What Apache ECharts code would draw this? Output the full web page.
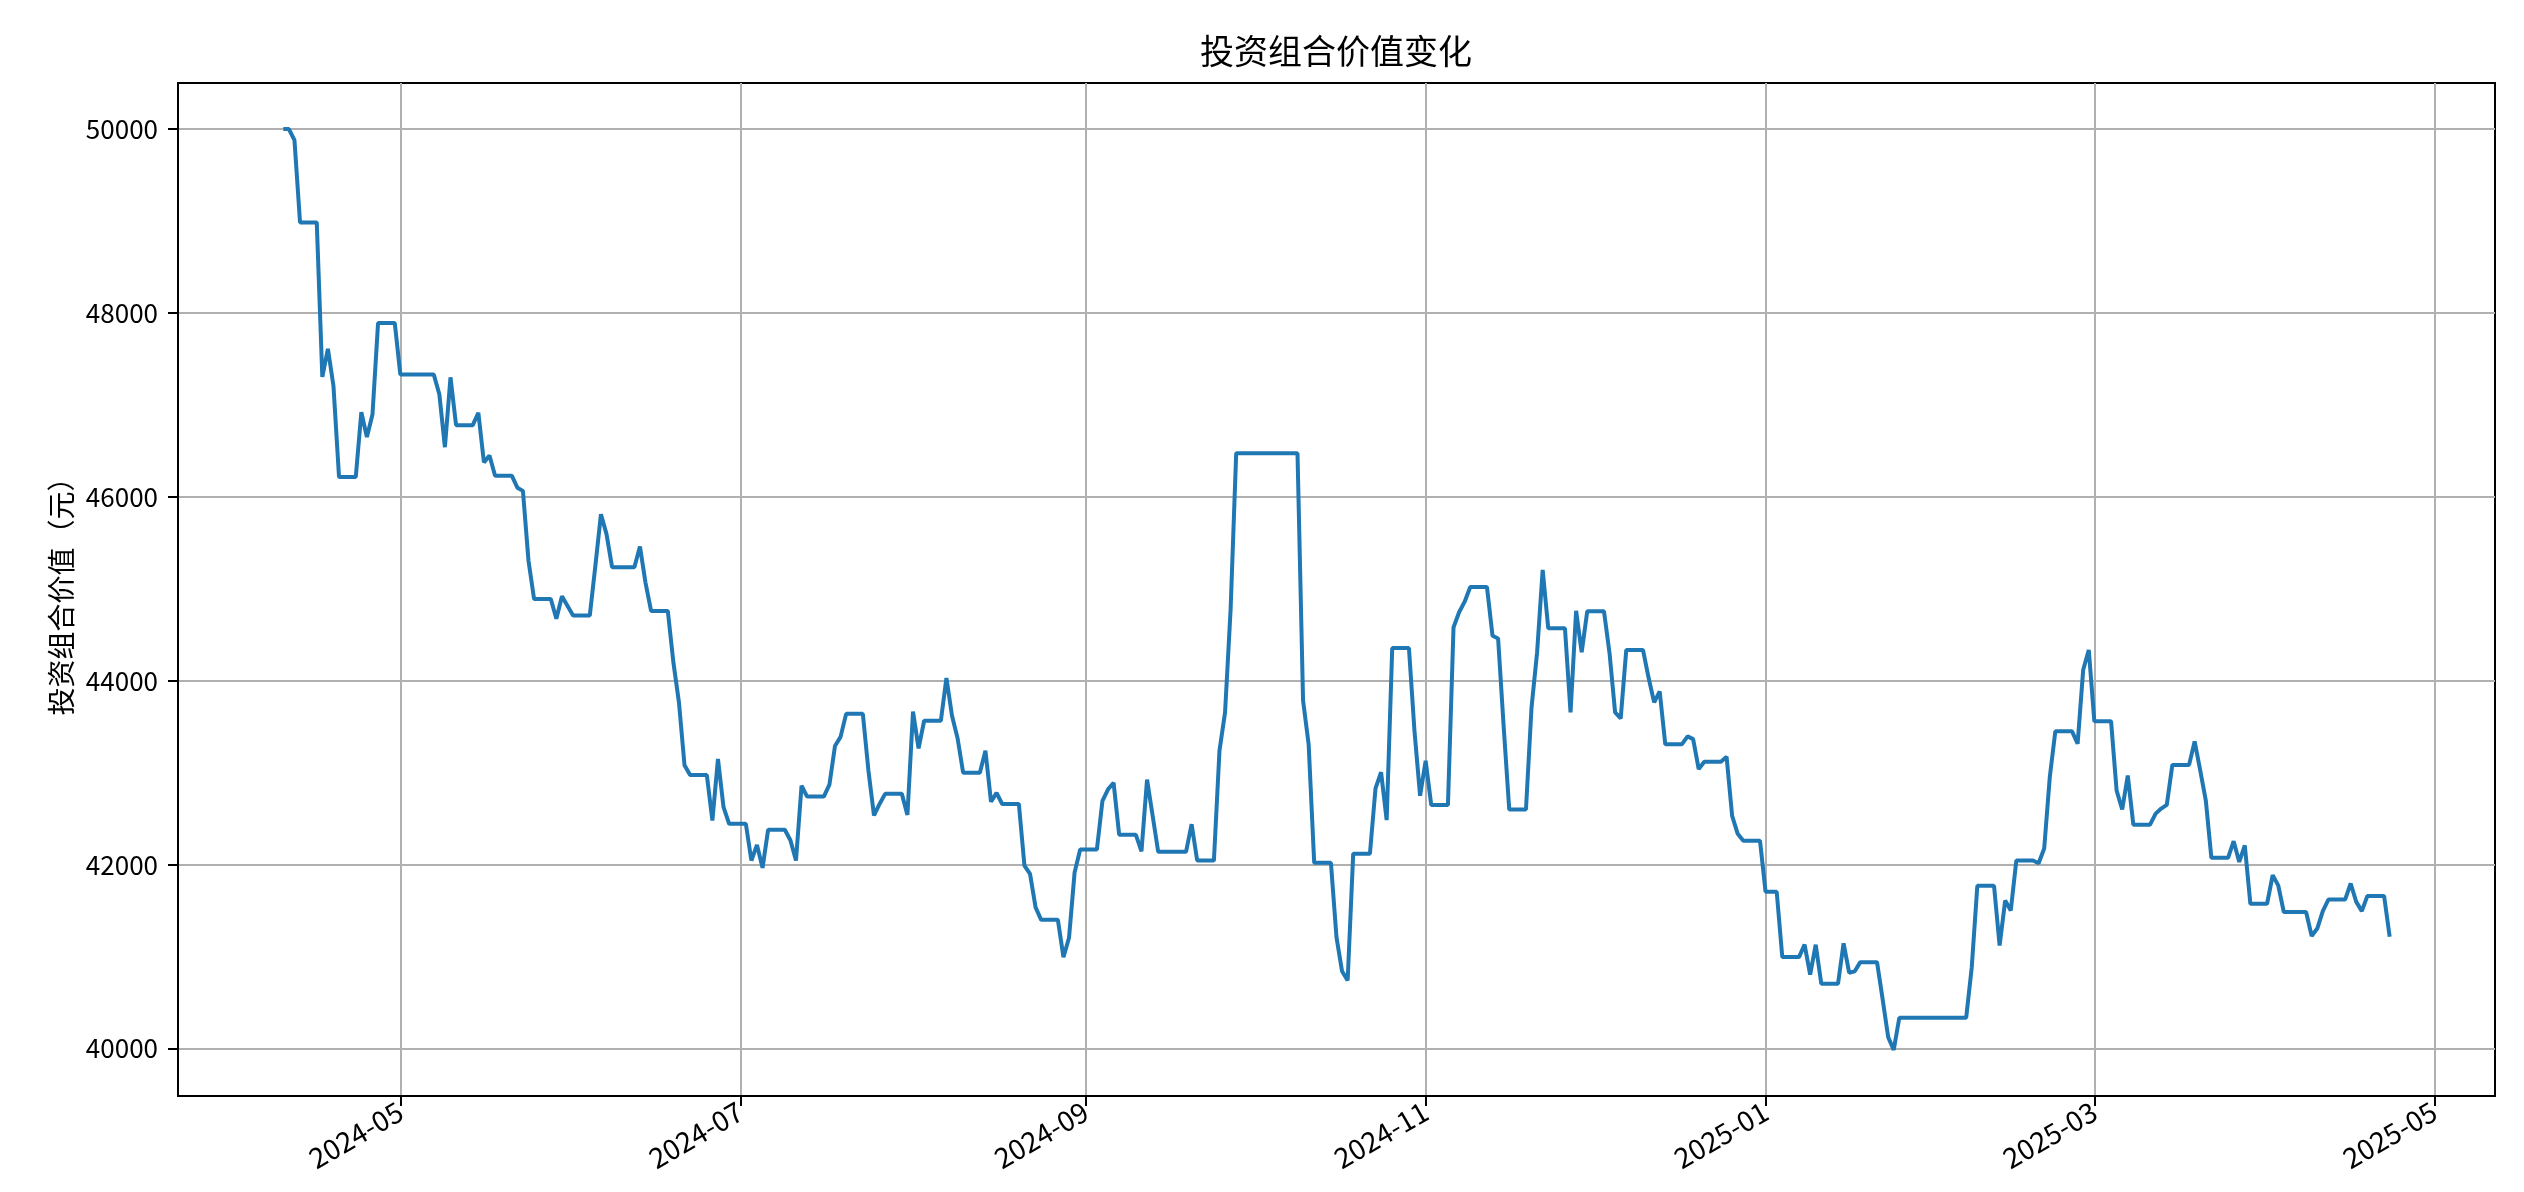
<!DOCTYPE html>
<html>
<head>
<meta charset="utf-8">
<title>投资组合价值变化</title>
<script src="https://cdn.jsdelivr.net/npm/echarts@6/dist/echarts.min.js"></script>
<style>
  html, body { margin: 0; padding: 0; background: #fff; }
  #main { width: 2524px; height: 1192px; }
</style>
</head>
<body>
<div id="main"></div>
<script>
// 日期（只列出折线的拐点，平段用两端表示）
const dates = [
  "2024-04-10", "2024-04-11", "2024-04-12", "2024-04-13", "2024-04-16", "2024-04-17", "2024-04-18", "2024-04-19",
  "2024-04-20", "2024-04-23", "2024-04-24", "2024-04-25", "2024-04-26", "2024-04-27", "2024-04-30", "2024-05-01",
  "2024-05-07", "2024-05-08", "2024-05-09", "2024-05-10", "2024-05-11", "2024-05-14", "2024-05-15", "2024-05-16",
  "2024-05-17", "2024-05-18", "2024-05-21", "2024-05-22", "2024-05-23", "2024-05-24", "2024-05-25", "2024-05-28",
  "2024-05-29", "2024-05-30", "2024-06-01", "2024-06-04", "2024-06-05", "2024-06-06", "2024-06-07", "2024-06-08",
  "2024-06-12", "2024-06-13", "2024-06-14", "2024-06-15", "2024-06-18", "2024-06-19", "2024-06-20", "2024-06-21",
  "2024-06-22", "2024-06-25", "2024-06-26", "2024-06-27", "2024-06-28", "2024-06-29", "2024-07-02", "2024-07-03",
  "2024-07-04", "2024-07-05", "2024-07-06", "2024-07-09", "2024-07-10", "2024-07-11", "2024-07-12", "2024-07-13",
  "2024-07-16", "2024-07-17", "2024-07-18", "2024-07-19", "2024-07-20", "2024-07-23", "2024-07-24", "2024-07-25",
  "2024-07-26", "2024-07-27", "2024-07-30", "2024-07-31", "2024-08-01", "2024-08-02", "2024-08-03", "2024-08-06",
  "2024-08-07", "2024-08-08", "2024-08-09", "2024-08-10", "2024-08-13", "2024-08-14", "2024-08-15", "2024-08-16",
  "2024-08-17", "2024-08-20", "2024-08-21", "2024-08-22", "2024-08-23", "2024-08-24", "2024-08-27", "2024-08-28",
  "2024-08-29", "2024-08-30", "2024-08-31", "2024-09-03", "2024-09-04", "2024-09-05", "2024-09-06", "2024-09-07",
  "2024-09-10", "2024-09-11", "2024-09-12", "2024-09-13", "2024-09-14", "2024-09-19", "2024-09-20", "2024-09-21",
  "2024-09-24", "2024-09-25", "2024-09-26", "2024-09-27", "2024-09-28", "2024-10-09", "2024-10-10", "2024-10-11",
  "2024-10-12", "2024-10-15", "2024-10-16", "2024-10-17", "2024-10-18", "2024-10-19", "2024-10-22", "2024-10-23",
  "2024-10-24", "2024-10-25", "2024-10-26", "2024-10-29", "2024-10-30", "2024-10-31", "2024-11-01", "2024-11-02",
  "2024-11-05", "2024-11-06", "2024-11-07", "2024-11-08", "2024-11-09", "2024-11-12", "2024-11-13", "2024-11-14",
  "2024-11-15", "2024-11-16", "2024-11-19", "2024-11-20", "2024-11-21", "2024-11-22", "2024-11-23", "2024-11-26",
  "2024-11-27", "2024-11-28", "2024-11-29", "2024-11-30", "2024-12-03", "2024-12-04", "2024-12-05", "2024-12-06",
  "2024-12-07", "2024-12-10", "2024-12-11", "2024-12-12", "2024-12-13", "2024-12-14", "2024-12-17", "2024-12-18",
  "2024-12-19", "2024-12-20", "2024-12-21", "2024-12-24", "2024-12-25", "2024-12-26", "2024-12-27", "2024-12-28",
  "2024-12-31", "2025-01-01", "2025-01-03", "2025-01-04", "2025-01-07", "2025-01-08", "2025-01-09", "2025-01-10",
  "2025-01-11", "2025-01-14", "2025-01-15", "2025-01-16", "2025-01-17", "2025-01-18", "2025-01-21", "2025-01-22",
  "2025-01-23", "2025-01-24", "2025-01-25", "2025-02-06", "2025-02-07", "2025-02-08", "2025-02-11", "2025-02-12",
  "2025-02-13", "2025-02-14", "2025-02-15", "2025-02-18", "2025-02-19", "2025-02-20", "2025-02-21", "2025-02-22",
  "2025-02-25", "2025-02-26", "2025-02-27", "2025-02-28", "2025-03-01", "2025-03-04", "2025-03-05", "2025-03-06",
  "2025-03-07", "2025-03-08", "2025-03-11", "2025-03-12", "2025-03-13", "2025-03-14", "2025-03-15", "2025-03-18",
  "2025-03-19", "2025-03-20", "2025-03-21", "2025-03-22", "2025-03-25", "2025-03-26", "2025-03-27", "2025-03-28",
  "2025-03-29", "2025-04-01", "2025-04-02", "2025-04-03", "2025-04-04", "2025-04-08", "2025-04-09", "2025-04-10",
  "2025-04-11", "2025-04-12", "2025-04-15", "2025-04-16", "2025-04-17", "2025-04-18", "2025-04-19", "2025-04-22",
  "2025-04-23"
];

// 投资组合价值（元）
const values = [
  50000, 50000, 49880, 48985, 48985, 47305, 47610, 47205,
  46215, 46215, 46920, 46650, 46895, 47890, 47890, 47330,
  47330, 47115, 46540, 47300, 46780, 46780, 46915, 46375,
  46450, 46230, 46230, 46100, 46065, 45305, 44890, 44890,
  44675, 44920, 44710, 44710, 45250, 45810, 45595, 45235,
  45235, 45460, 45065, 44760, 44760, 44200, 43765, 43080,
  42975, 42975, 42480, 43150, 42625, 42445, 42445, 42045,
  42215, 41965, 42380, 42380, 42265, 42045, 42860, 42740,
  42740, 42870, 43290, 43390, 43640, 43640, 43025, 42535,
  42660, 42770, 42770, 42540, 43665, 43265, 43565, 43565,
  44030, 43620, 43375, 43000, 43000, 43240, 42685, 42780,
  42660, 42660, 41990, 41900, 41535, 41400, 41400, 40995,
  41205, 41915, 42165, 42165, 42695, 42820, 42890, 42325,
  42325, 42145, 42925, 42535, 42140, 42140, 42440, 42045,
  42045, 43240, 43655, 44780, 46475, 46475, 43785, 43310,
  42020, 42020, 41210, 40840, 40740, 42120, 42120, 42830,
  43005, 42485, 44355, 44355, 43450, 42750, 43130, 42650,
  42650, 44580, 44745, 44860, 45020, 45020, 44490, 44460,
  43500, 42600, 42600, 43710, 44310, 45205, 44570, 44570,
  43655, 44760, 44310, 44755, 44755, 44300, 43655, 43590,
  44335, 44335, 44035, 43765, 43885, 43310, 43310, 43395,
  43365, 43040, 43120, 43120, 43175, 42530, 42335, 42260,
  42260, 41705, 41705, 40995, 40995, 41130, 40805, 41130,
  40705, 40705, 41145, 40825, 40840, 40940, 40940, 40540,
  40125, 39985, 40335, 40335, 40885, 41770, 41770, 41120,
  41610, 41500, 42045, 42045, 42015, 42175, 42950, 43450,
  43450, 43315, 44120, 44335, 43560, 43560, 42805, 42600,
  42970, 42435, 42435, 42555, 42610, 42650, 43085, 43085,
  43340, 43025, 42700, 42075, 42075, 42255, 42030, 42210,
  41575, 41575, 41885, 41775, 41485, 41485, 41225, 41305,
  41495, 41620, 41620, 41795, 41595, 41495, 41660, 41660,
  41215
];

// 刻度
const xTicks = ["2024-05-01", "2024-07-01", "2024-09-01", "2024-11-01", "2025-01-01", "2025-03-01", "2025-05-01"];
const yTicks = [40000, 42000, 44000, 46000, 48000, 50000];

let chartDom = document.getElementById("main");
let myChart = echarts.init(chartDom, null, { renderer: "canvas" });

let seriesData = dates.map((d, i) => [Date.parse(d), values[i]]);
let xTickTimes = xTicks.map((d) => Date.parse(d));

// matplotlib 默认留 5% 边距
let t0 = seriesData[0][0];
let t1 = seriesData[seriesData.length - 1][0];
let tPad = (t1 - t0) * 0.05;
let vMin = Math.min(...values);
let vMax = Math.max(...values);
let vPad = (vMax - vMin) * 0.05;

const font = "'Noto Sans CJK SC', 'DejaVu Sans', sans-serif";

let option = {
  animation: false,
  backgroundColor: "#fff",
  title: {
    text: "投资组合价值变化",
    left: 1336,
    top: 34,
    textAlign: "center",
    padding: 0,
    textStyle: { fontFamily: font, fontSize: 34, fontWeight: "normal", color: "#000" },
  },
  grid: {
    left: 178,
    right: 29,
    top: 83,
    bottom: 96,
    show: true,
    borderColor: "#000",
    borderWidth: 2,
  },
  xAxis: {
    type: "value",
    min: t0 - tPad,
    max: t1 + tPad,
    axisLine: { show: true, lineStyle: { color: "#000", width: 2 } },
    axisTick: {
      show: true,
      length: 10,
      lineStyle: { color: "#000", width: 2 },
      customValues: xTickTimes,
    },
    axisLabel: {
      customValues: xTickTimes,
      rotate: 30,
      margin: 13,
      fontFamily: font,
      fontSize: 28,
      color: "#000",
      formatter: (v) => {
        let d = new Date(v);
        let m = d.getUTCMonth() + 1;
        return d.getUTCFullYear() + "-" + (m < 10 ? "0" + m : m);
      },
    },
    splitLine: { show: true, lineStyle: { color: "#b0b0b0", width: 2 } },
  },
  yAxis: {
    type: "value",
    min: vMin - vPad,
    max: vMax + vPad,
    name: "投资组合价值（元）",
    nameLocation: "middle",
    nameRotate: 90,
    nameGap: 100,
    nameTextStyle: { fontFamily: font, fontSize: 28, color: "#000" },
    axisLine: { show: true, lineStyle: { color: "#000", width: 2 } },
    axisTick: {
      show: true,
      length: 10,
      lineStyle: { color: "#000", width: 2 },
      customValues: yTicks,
    },
    axisLabel: {
      customValues: yTicks,
      margin: 20,
      fontFamily: font,
      fontSize: 26,
      color: "#000",
      formatter: (v) => String(v),
    },
    splitLine: { show: true, lineStyle: { color: "#b0b0b0", width: 2 } },
  },
  series: [
    {
      type: "line",
      data: seriesData,
      showSymbol: false,
      symbol: "none",
      lineStyle: { color: "#1f77b4", width: 4 },
      itemStyle: { color: "#1f77b4" },
    },
  ],
};

option && myChart.setOption(option);
</script>
</body>
</html>
